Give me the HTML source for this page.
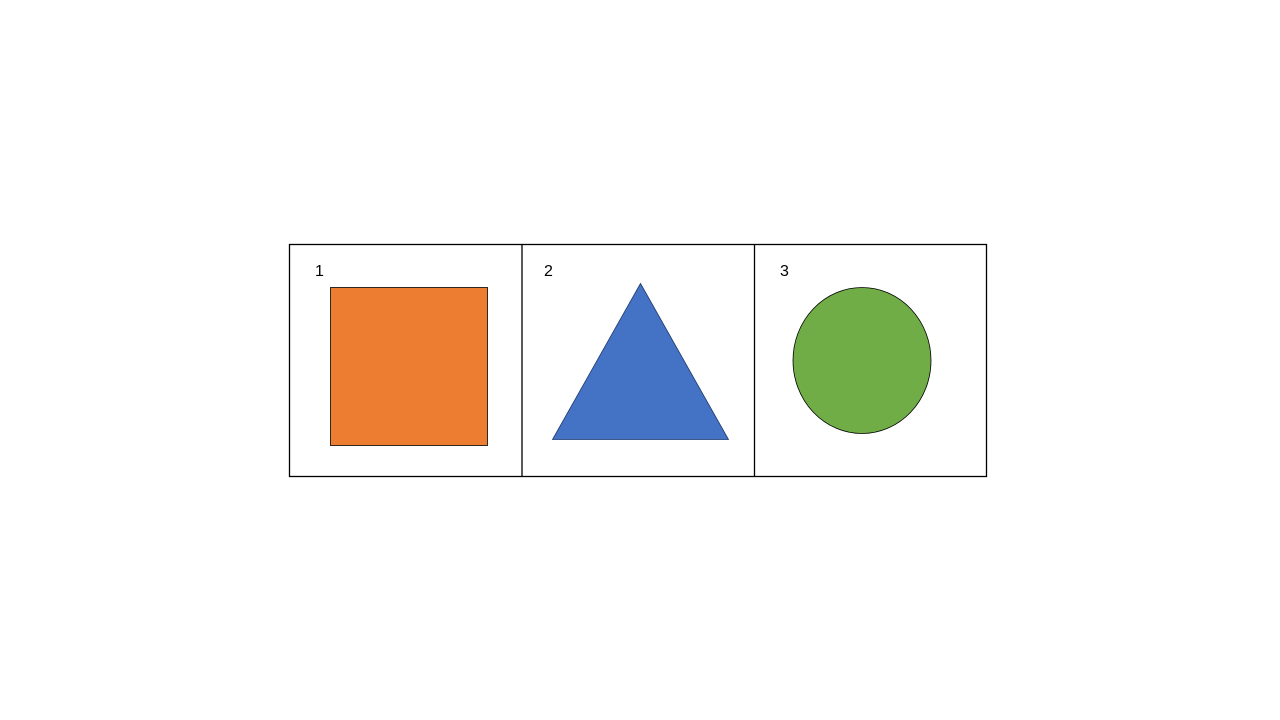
<!DOCTYPE html>
<html><head><meta charset="utf-8"><style>
html,body{margin:0;padding:0;background:#fff;width:1280px;height:720px;overflow:hidden}
svg{display:block}
text{font-family:"Liberation Sans",sans-serif;font-size:16px;fill:#000}
</style></head><body>
<svg width="1280" height="720" viewBox="0 0 1280 720">
<rect x="289.5" y="244.5" width="697" height="232" fill="none" stroke="#000" stroke-width="1.3"/>
<line x1="522" y1="244.5" x2="522" y2="476.5" stroke="#000" stroke-width="1.3"/>
<line x1="754.5" y1="244.5" x2="754.5" y2="476.5" stroke="#000" stroke-width="1.3"/>
<text x="315" y="276">1</text>
<text x="544" y="276">2</text>
<text x="780" y="276">3</text>
<rect x="330.5" y="287.5" width="157" height="158" fill="#ED7D31" stroke="#000" stroke-width="0.8"/>
<polygon points="640.5,283.5 552.5,439.5 728.5,439.5" fill="#4472C4" stroke="#1f3a6e" stroke-width="0.8"/>
<ellipse cx="862" cy="360.5" rx="69" ry="73" fill="#70AD47" stroke="#000" stroke-width="0.8"/>
</svg>
</body></html>
